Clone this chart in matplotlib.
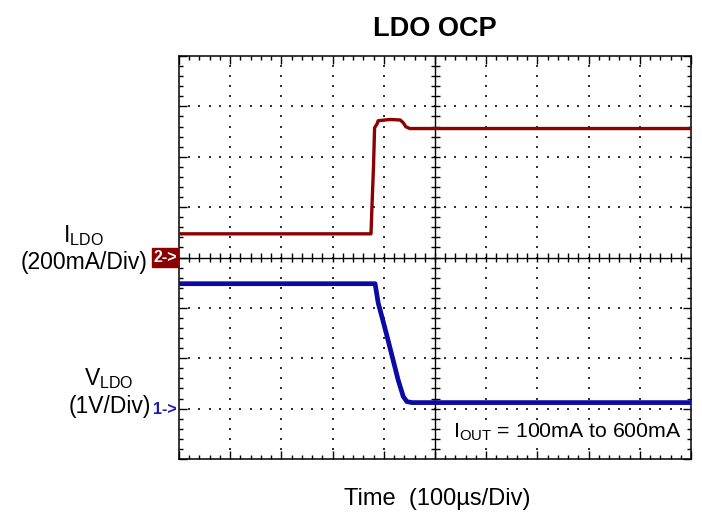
import matplotlib
matplotlib.use('Agg')
import matplotlib.pyplot as plt
import numpy as np

# Scope settings
time_per_div = 100.0      # us/div
ch2_scale = 200.0         # mA/div, reference at centre
ch1_scale = 1.0           # V/div
ch1_offset_div = -3.0     # ch1 ground marker 3 div below centre

# Channel 2: LDO current (mA)
i_time = [0, 375, 377, 380, 382, 387, 389, 412, 432, 438, 443, 451, 1000]
i_ldo = [94, 94, 209, 368, 515, 531, 543, 548, 546, 535, 519, 512, 512]

# Channel 1: LDO voltage (V)
v_time = [0, 383, 389, 398, 408, 418, 428, 438, 445, 455, 1000]
v_ldo = [2.48, 2.48, 2.10, 1.76, 1.37, 0.97, 0.57, 0.24, 0.14, 0.12, 0.12]

title = 'LDO OCP'
note = r'I$_{\mathrm{OUT}}$ = 100mA to 600mA'

plt.rcParams['font.family'] = ['Liberation Sans', 'DejaVu Sans']
plt.rcParams['mathtext.fontset'] = 'custom'
plt.rcParams['mathtext.rm'] = 'Liberation Sans'
plt.rcParams['mathtext.it'] = 'Liberation Sans:italic'
plt.rcParams['mathtext.bf'] = 'Liberation Sans:bold'

W, H = 702, 512
fig = plt.figure(figsize=(W / 100, H / 100), dpi=100)
ax = fig.add_axes([179 / W, 1 - 459 / H, 512 / W, 403 / H])

# convert to divisions
t_div = np.array(i_time) / time_per_div
i_div = np.array(i_ldo) / ch2_scale
tv_div = np.array(v_time) / time_per_div
v_div = np.array(v_ldo) / ch1_scale + ch1_offset_div

ax.plot(t_div, i_div, color='#8b0000', lw=2.4, solid_joinstyle='round', zorder=5)
ax.plot(tv_div, v_div, color='#0b0ba3', lw=3.4, solid_joinstyle='round', zorder=5)

ax.set_xlim(0, 10)
ax.set_ylim(-4, 4)

# Graticule
for s in ax.spines.values():
    s.set_linewidth(1.1)
ax.set_xticks(np.arange(0, 11, 1))
ax.set_xticks(np.arange(0, 10.01, 0.2), minor=True)
ax.set_yticks(np.arange(-4, 5, 1))
ax.set_yticks(np.arange(-4, 4.01, 0.2), minor=True)
ax.tick_params(which='both', direction='in', top=True, right=True,
               labelbottom=False, labelleft=False, width=1.0, color='black')
ax.tick_params(which='major', length=6)
ax.tick_params(which='minor', length=3.2)

ax.axvline(5, color='black', lw=1.0, zorder=3)
ax.axhline(0, color='black', lw=1.0, zorder=3)
dx = 4.5 / 51.2
dy = 4.5 / 50.4
minor_x = np.arange(0.2, 10, 0.2)
minor_y = np.arange(-3.8, 4, 0.2)
ax.vlines(minor_x, -dy, dy, color='black', lw=1.0, zorder=3)
ax.hlines(minor_y, 5 - dx, 5 + dx, color='black', lw=1.0, zorder=3)

# dotted grid
dots_x, dots_y = [], []
for gx in range(1, 10):
    if gx == 5:
        continue
    for my in minor_y:
        dots_x.append(gx)
        dots_y.append(my)
for gy in range(-3, 4):
    if gy == 0:
        continue
    for mx in minor_x:
        dots_x.append(mx)
        dots_y.append(gy)
ax.scatter(dots_x, dots_y, s=1.6, marker='s', color='#333333', linewidths=0, zorder=2)

# Texts
fig.text(435 / W, 1 - 36.5 / H, title, ha='center', va='baseline',
         fontsize=19.5, fontweight='bold')
fig.text(437 / W, 1 - 505 / H, 'Time  (100µs/Div)', ha='center', va='baseline', fontsize=17)
ax.text(453 / W, 1 - 438 / H, note, transform=fig.transFigure, ha='left', va='baseline',
        fontsize=15.3, zorder=6,
        bbox=dict(boxstyle='square,pad=0.05', facecolor='white', edgecolor='none'))

fig.text(83 / W, 1 - 242 / H, r'I$_{\mathrm{LDO}}$', ha='center', va='baseline', fontsize=16.5)
fig.text(148 / W, 1 - 269 / H, '(200mA/Div)', ha='right', va='baseline', fontsize=16.5)
fig.text(109 / W, 1 - 385 / H, r'V$_{\mathrm{LDO}}$', ha='center', va='baseline', fontsize=16.5)
fig.text(151 / W, 1 - 413 / H, '(1V/Div)', ha='right', va='baseline', fontsize=16.5)

# channel markers
fig.patches.append(plt.Rectangle((152 / W, 1 - 267 / H), 26 / W, 19 / H,
                                 transform=fig.transFigure, color='#8b0000', zorder=1))
fig.text(165 / W, 1 - 258 / H, '2->', ha='center', va='center', fontsize=11.5,
         fontweight='bold', color='white')
fig.text(165 / W, 1 - 409 / H, '1->', ha='center', va='center', fontsize=11.5,
         fontweight='bold', color='#1c1cb4')

fig.savefig('out.png', dpi=100)
